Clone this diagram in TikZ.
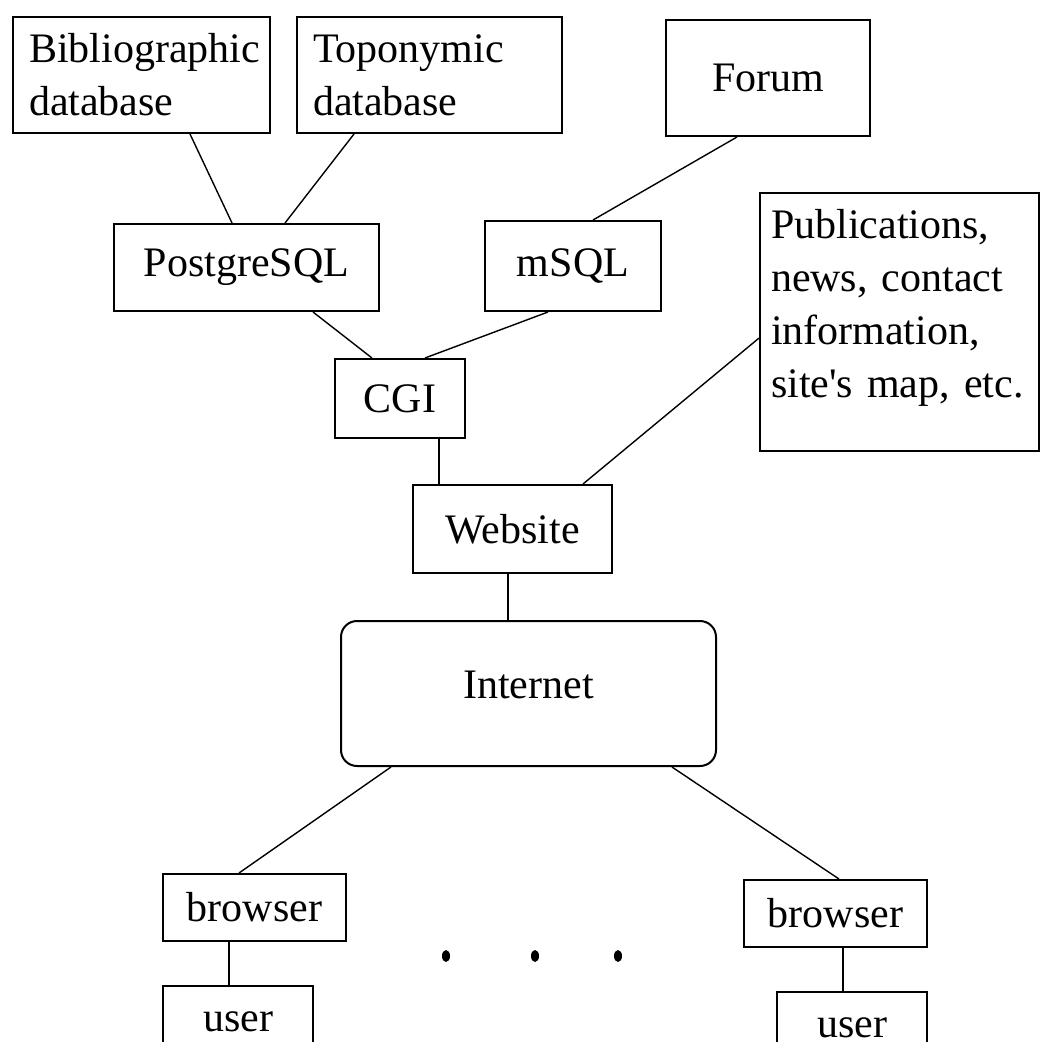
\documentclass[tikz,border=0pt]{standalone}
\usepackage{fontspec}
\setmainfont{Liberation Serif}
\usetikzlibrary{positioning}

\begin{document}
\begin{tikzpicture}[
    x=1pt, y=-1pt,
    box/.style={
	draw,
	line width=2pt,
	inner sep=0pt,
	font=\fontsize{42}{53}\selectfont
    },
    textbox/.style={
	box,
	align=left,
	inner xsep=16pt
    },
    link/.style={line width=1.4pt}
]
	\useasboundingbox (0,0) rectangle (1040,1042);

	% Databases
	\node[textbox, anchor=north west, text width=225pt, minimum height=116pt] (bib) at (12,16)
	    {Bibliographic\\database};
	\node[textbox, right=25pt of bib, text width=233pt, minimum height=116pt] (topo)
	    {Toponymic\\database};
	\node[box, anchor=north west, minimum width=204pt, minimum height=116pt] (forum) at (665,19) {Forum};

	\node[box, anchor=north west, minimum width=265pt, minimum height=87pt] (postgres) at (113,223) {PostgreSQL};
	\node[box, anchor=north west, minimum width=176pt, minimum height=90pt] (msql) at (484,220) {mSQL};

	\node[textbox, anchor=north west, inner xsep=11pt, inner ysep=16pt, text width=257pt,
	    text depth=197pt] (pub) at (759,192)
	    {Publications,\\news, contact\\information,\\site\textquotesingle s map, etc.};

	% Server side
	\node[box, anchor=north west, minimum width=130pt, minimum height=79pt] (cgi) at (334,358) {CGI};
	\node[box, anchor=north west, minimum width=199pt, minimum height=88pt] (website) at (412,484) {Website};
	\node[box, anchor=north west, rounded corners=16pt, minimum width=375pt, minimum height=145pt,
	    text depth=18pt] (internet) at (340,620) {Internet};

	% Clients
	\node[box, anchor=north west, minimum width=183pt, minimum height=67pt] (lbrowser) at (162,873) {browser};
	\node[box, anchor=north west, minimum width=183pt, minimum height=67pt] (rbrowser) at (743,879) {browser};
	\node[box, below right=43pt and 0pt of lbrowser.south west, minimum width=150pt, minimum height=71pt] (luser) {user};
	\node[box, below left=43pt and 0pt of rbrowser.south east, minimum width=150pt, minimum height=71pt] (ruser) {user};

	% Databases -- engines
	\draw[link] ([xshift=48.5pt]bib.south) -- ([xshift=-14.5pt]postgres.north);
	\draw[link] ([xshift=-75.5pt]topo.south) -- ([xshift=38.5pt]postgres.north);
	\draw[link] ([xshift=-31pt]forum.south) -- ([xshift=20pt]msql.north);

	% Engines -- CGI -- Website
	\draw[link] ([xshift=66.5pt]postgres.south) -- ([xshift=-28pt]cgi.north);
	\draw[link] ([xshift=-25pt]msql.south) -- ([xshift=25pt]cgi.north);
	\draw[link] ([xshift=39pt]cgi.south) -- ([xshift=-73.5pt]website.north);
	\draw[link] ([yshift=-16pt]pub.west) -- ([xshift=70.5pt]website.north);

	% Website -- Internet -- browsers
	\draw[link] ([xshift=-4.5pt]website.south) -- ([xshift=-20.5pt]internet.north);
	\draw[link] ([xshift=-137.5pt]internet.south) -- ([xshift=-15.5pt]lbrowser.north);
	\draw[link] ([xshift=143.5pt]internet.south) -- ([xshift=3.5pt]rbrowser.north);
	\draw[link] ([xshift=-25.5pt]lbrowser.south) -- ([xshift=-9pt]luser.north);
	\draw[link] ([xshift=7.5pt]rbrowser.south) -- ([xshift=-9pt]ruser.north);

	% dots
	\foreach \dx in {446, 535, 618}
	    \fill (\dx,956) ellipse [x radius=4pt, y radius=6pt];
\end{tikzpicture}
\end{document}
